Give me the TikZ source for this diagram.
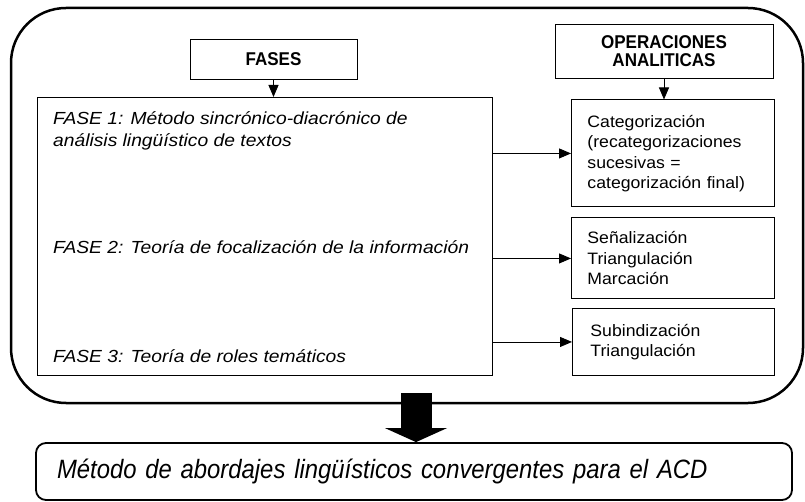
\documentclass[tikz,border=0pt]{standalone}
\usepackage{fontspec}
\setmainfont{Liberation Sans}
\newfontfamily\phasefont[FakeStretch=1.1]{Liberation Sans}
\newfontfamily\opfont[FakeStretch=1.07]{Liberation Sans}
\newfontfamily\headfont[FakeStretch=0.92]{Liberation Sans}
\newfontfamily\leadfont[FakeStretch=0.9]{Liberation Sans}
\usetikzlibrary{arrows.meta,positioning}
\tikzset{
  every node/.style={inner sep=0pt},
  box/.style={draw, rectangle, line width=0.9pt, anchor=north west},
  header/.style={draw, rectangle, line width=0.9pt, align=center, font=\headfont\bfseries\fontsize{18.5}{18.3}\selectfont},
  phase/.style={anchor=base west, align=left, font=\phasefont\itshape\fontsize{17.5}{22}\selectfont},
  opbox/.style={box, align=left, inner xsep=16pt, font=\opfont\fontsize{16.5}{20.5}\selectfont},
  arrow/.style={-{Triangle[length=12pt,width=10pt]}, line width=0.9pt},
  bigarrow/.style={-{Triangle[length=14pt,width=62pt,line width=0pt]}, line width=31pt}
}

\begin{document}
\begin{tikzpicture}[x=1pt, y=-1pt]
\useasboundingbox (0,0) rectangle (805,502);

% Outer frame
\node[draw, line width=2.5pt, rounded corners=55pt, minimum width=792pt, minimum height=395pt] (frame) at (407,205.5) {};

% Headers
\node[header, minimum width=167pt, minimum height=40pt] (fasehdr) at (273.5,59) {FASES};
\node[header, minimum width=218pt, minimum height=54pt] (ophdr) at (664,51) {OPERACIONES\\ANALITICAS};

% Phases column
\node[box, minimum width=455pt, minimum height=278pt] (phases) at (37,97) {};
\node[phase] (ph1) at (53,147) {FASE 1: Método sincrónico-diacrónico de\\análisis lingüístico de textos};
\node[phase] (ph2) at (53,254) {FASE 2: Teoría de focalización de la información};
\node[phase] (ph3) at (53,362) {FASE 3: Teoría de roles temáticos};

% Operations column
\node[opbox, text width=171pt, minimum width=203pt, minimum height=107pt] (cat) at (571,99.5) {Categorización\\(recategorizaciones\\sucesivas =\\categorización final)};
\node[opbox, text width=171pt, minimum width=203pt, minimum height=81pt] (senal) at (571,217.5) {Señalización\\Triangulación\\Marcación};
\node[opbox, inner xsep=18pt, text width=166pt, minimum width=202pt, minimum height=67pt] (sub) at (572,308) {Subindización\\Triangulación};

% Result
\node[draw, line width=1.8pt, rounded corners=10pt, minimum width=756pt, minimum height=57pt, inner xsep=21pt, text width=714pt, align=left, font=\leadfont\itshape\fontsize{26.5}{30}\selectfont] (result) at (414,471.5) {Método de abordajes lingüísticos convergentes para el ACD};

% Arrows
\draw[arrow] (fasehdr.south) -- (fasehdr.south |- phases.north);
\draw[arrow] (ophdr.south) -- (ophdr.south |- cat.north);
\draw[arrow] (phases.east |- cat) -- (cat);
\draw[arrow] (phases.east |- senal) -- (senal);
\draw[arrow] (phases.east |- sub) -- (sub);
\coordinate (drop) at (416,393);
\draw[bigarrow] (drop) -- (drop |- result.north);

\end{tikzpicture}
\end{document}
